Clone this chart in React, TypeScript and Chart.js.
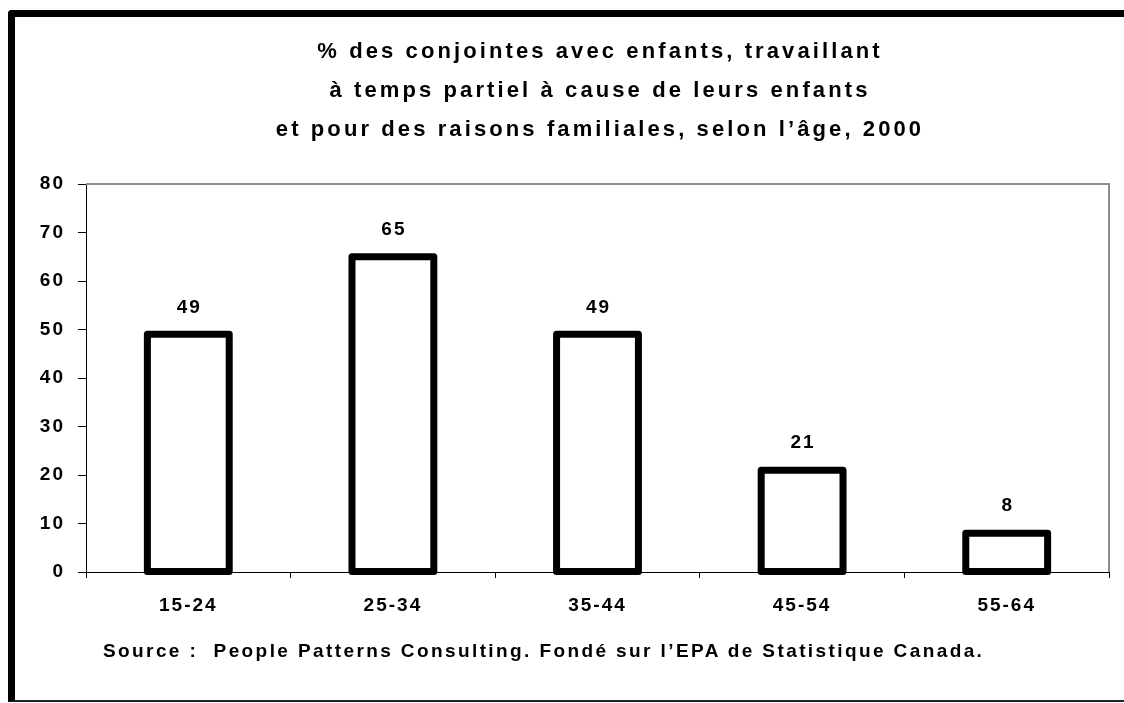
import React, { useEffect, useRef } from "react";
import { Chart, registerables } from "chart.js";

Chart.register(...registerables);

const categories = ["15-24", "25-34", "35-44", "45-54", "55-64"];
const values = [49, 65, 49, 21, 8];
const titleLines = [
  "% des conjointes avec enfants, travaillant",
  "à temps partiel à cause de leurs enfants",
  "et pour des raisons familiales, selon l’âge, 2000",
];
const sourceText = "Source :  People Patterns Consulting. Fondé sur l’EPA de Statistique Canada.";

const FONT = "'Liberation Sans', Arial, Helvetica, sans-serif";

const spacingPlugin = {
  id: "spacing",
  beforeDraw(chart: any) {
    (chart.ctx as any).letterSpacing = "2px";
  },
};

const barsPlugin = {
  id: "barsOutline",
  afterDatasetsDraw(chart: any) {
    const ctx = chart.ctx;
    const meta = chart.getDatasetMeta(0);
    const { chartArea } = chart;
    ctx.save();
    ctx.strokeStyle = "#8c8c8c";
    ctx.lineWidth = 2;
    ctx.beginPath();
    ctx.moveTo(chartArea.left, chartArea.top);
    ctx.lineTo(chartArea.right, chartArea.top);
    ctx.lineTo(chartArea.right, chartArea.bottom);
    ctx.stroke();
    ctx.strokeStyle = "#000";
    ctx.lineWidth = 7;
    ctx.lineJoin = "round";
    meta.data.forEach((el: any) => {
      const p = el.getProps(["x", "y", "base", "width"], true);
      ctx.fillStyle = "#fff";
      ctx.fillRect(p.x - p.width / 2, p.y, p.width, p.base - p.y);
      ctx.strokeRect(p.x - p.width / 2, p.y, p.width, p.base - p.y);
    });
    ctx.fillStyle = "#000";
    ctx.font = `bold 19px ${FONT}`;
    ctx.textAlign = "center";
    ctx.textBaseline = "middle";
    (ctx as any).letterSpacing = "2px";
    meta.data.forEach((el: any, i: number) => {
      const p = el.getProps(["x", "y"], true);
      ctx.fillText(String(values[i]), p.x + 1, p.y - 27);
    });
    ctx.restore();
  },
};

export default function App() {
  const ref = useRef<HTMLCanvasElement | null>(null);
  useEffect(() => {
    if (!ref.current) return;
    const chart = new Chart(ref.current, {
      type: "bar",
      data: {
        labels: categories,
        datasets: [
          {
            data: values,
            backgroundColor: "rgba(0,0,0,0)",
            borderWidth: 0,
            barPercentage: 0.4,
            categoryPercentage: 1,
          },
        ],
      },
      options: {
        responsive: false,
        animation: false,
        events: [],
        layout: { padding: { left: 0, top: 184, right: 15, bottom: 0 } },
        plugins: {
          legend: { display: false },
          tooltip: { enabled: false },
          title: { display: false },
        },
        scales: {
          x: {
            afterFit(scale: any) {
              scale.height = 703 - 572;
            },
            grid: {
              offset: true,
              drawOnChartArea: false,
              drawTicks: true,
              tickLength: 6,
              color: "#000",
            },
            border: { color: "#000", width: 1 },
            ticks: {
              color: "#000",
              padding: 16,
              font: { family: FONT, size: 19, weight: "bold" },
            },
          },
          y: {
            min: 0,
            max: 80,
            afterFit(scale: any) {
              scale.width = 86;
            },
            grid: {
              drawOnChartArea: false,
              drawTicks: true,
              tickLength: 8,
              color: "#000",
            },
            border: { color: "#000", width: 1 },
            ticks: {
              stepSize: 10,
              color: "#000",
              padding: 13,
              font: { family: FONT, size: 19, weight: "bold" },
            },
          },
        },
      },
      plugins: [spacingPlugin, barsPlugin],
    });
    return () => chart.destroy();
  }, []);

  return (
    <div
      style={{
        position: "fixed",
        left: 0,
        top: 0,
        width: 1124,
        height: 703,
        background: "#fff",
        overflow: "hidden",
        fontFamily: FONT,
      }}
    >
      <div
        style={{
          position: "absolute",
          left: 8,
          top: 10,
          width: 1130,
          height: 683,
          borderLeft: "7px solid #000",
          borderTop: "7px solid #000",
          borderBottom: "2px solid #222",
          borderTopLeftRadius: 4,
        }}
      />
      <canvas
        ref={ref}
        width={1124}
        height={703}
        style={{ position: "absolute", left: 0, top: 0, width: 1124, height: 703 }}
      />
      <div
        style={{
          position: "absolute",
          left: 200,
          width: 800,
          top: 31,
          textAlign: "center",
          fontWeight: "bold",
          fontSize: 22,
          lineHeight: "39px",
          letterSpacing: "3.1px",
          color: "#000",
          whiteSpace: "nowrap",
        }}
      >
        {titleLines.map((l, i) => (
          <div key={i}>{l}</div>
        ))}
      </div>
      <div
        style={{
          position: "absolute",
          left: 103,
          top: 639,
          fontWeight: "bold",
          fontSize: 19,
          lineHeight: "24px",
          letterSpacing: "2.4px",
          color: "#000",
          whiteSpace: "pre",
        }}
      >
        {sourceText}
      </div>
    </div>
  );
}
